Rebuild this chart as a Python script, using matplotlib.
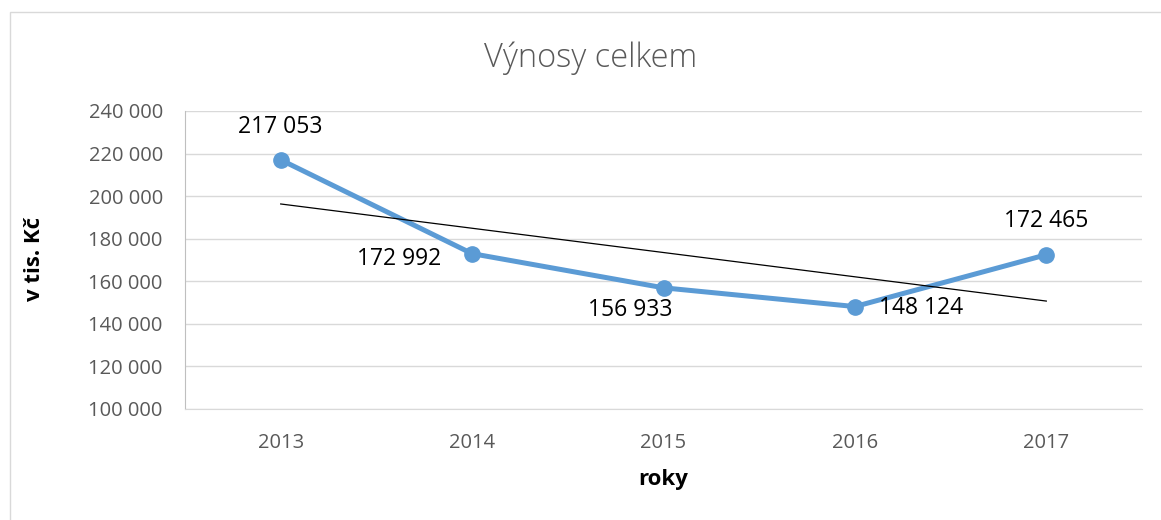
import numpy as np
import matplotlib
matplotlib.use("Agg")
from matplotlib import pyplot as plt
from matplotlib.patches import Rectangle

####################################### data
years = ['2013', '2014', '2015', '2016', '2017']
vynosy = [217053, 172992, 156933, 148124, 172465]
yticks = [100000, 120000, 140000, 160000, 180000, 200000, 220000, 240000]
label_pos = ['above', 'left', 'below', 'right', 'above']

def fmt(v):
    return f'{v:,}'.replace(',', ' ')

plt.rcParams['font.family'] = ['Open Sans', 'DejaVu Sans']

####################################### figure
fig = plt.figure(figsize=(11.61, 5.2), dpi=100)
fig.patches.append(Rectangle((10/1161, -0.1), 1.2, 1 - 12/520 + 0.1,
                             transform=fig.transFigure, fill=False,
                             edgecolor='#d9d9d9', lw=1))
ax = fig.add_axes([185/1161, 1 - 409/520, 957/1161, 298/520])

x = np.arange(len(years))
ax.plot(x, vynosy, color='#5b9bd5', lw=3.6, marker='o', ms=11, zorder=3,
        solid_capstyle='round')

# linear trendline
k, q = np.polyfit(x, vynosy, 1)
ax.plot(x, k*x + q, color='black', lw=0.9, zorder=4)

# data labels (offsets in points: dx, dy down)
offs = {'above': (0, -24, 'center', 'center'), 'below': (-24, 16, 'center', 'center'),
        'left': (-22, 4, 'right', 'center'), 'right': (17, 1, 'left', 'center')}
for xi, v, p in zip(x, vynosy, label_pos):
    dx, dy, ha, va = offs[p]
    ax.annotate(fmt(v), (xi, v), xytext=(dx, -dy), textcoords='offset points',
                ha=ha, va=va, fontsize=16.5, color='black', zorder=5)

####################################### axes styling
ax.set_xlim(-0.5, len(years) - 0.5)
ax.set_ylim(100000, 240000)
ax.set_yticks(yticks)
ax.set_yticklabels([fmt(t) for t in yticks])
ax.set_xticks(x)
ax.set_xticklabels(years)
ax.tick_params(axis='both', length=0, colors='#595959', labelsize=14.5)
ax.tick_params(axis='y', pad=16)
ax.tick_params(axis='x', pad=17)
ax.grid(axis='y', color='#d9d9d9', lw=1)
ax.set_axisbelow(True)
for s in ['top', 'right']:
    ax.spines[s].set_visible(False)
ax.spines['left'].set_color('#bfbfbf')
ax.spines['bottom'].set_color('#d9d9d9')

fig.text(591/1161, 1 - 58/520, 'Výnosy celkem', ha='center', va='center',
         fontsize=23.5, color='#595959', fontweight='light')
fig.text(35/1161, 1 - 259/520, 'v tis. Kč', ha='center', va='center',
         rotation=90, fontsize=16, fontweight='bold', color='black')
fig.text(663/1161, 1 - 480/520, 'roky', ha='center', va='center',
         fontsize=16, fontweight='bold', color='black')

fig.savefig('out.png', dpi=100)
